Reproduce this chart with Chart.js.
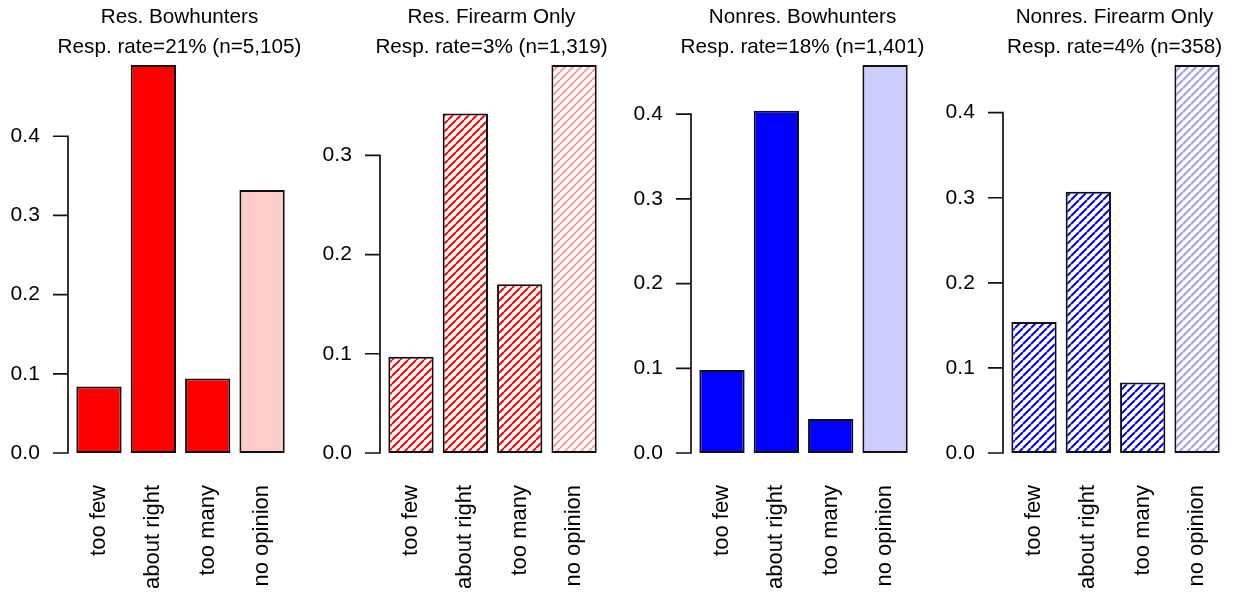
<!DOCTYPE html>
<html>
<head>
<meta charset="utf-8">
<script src="https://cdn.jsdelivr.net/npm/chart.js@4.4.1/dist/chart.umd.min.js"></script>
<style>
  html, body { margin: 0; padding: 0; background: #fff; overflow: hidden; width: 1233px; height: 595px; }
  #wrap { position: relative; width: 1233px; height: 595px; overflow: hidden; }
  #wrap canvas { position: absolute; top: 0; }
</style>
</head>
<body>
<div id="wrap"></div>
<script>
// Answer categories shared by all four panels
const categories = ['too few', 'about right', 'too many', 'no opinion'];

// Share of respondents per answer
const resBowhunters     = [0.084, 0.490, 0.094, 0.332];
const resFirearmOnly    = [0.097, 0.342, 0.170, 0.391];
const nonresBowhunters  = [0.098, 0.404, 0.040, 0.458];
const nonresFirearmOnly = [0.154, 0.307, 0.083, 0.456];

// Panel headings
const titleResBow     = ['Res. Bowhunters', 'Resp. rate=21% (n=5,105)'];
const titleResFire    = ['Res. Firearm Only', 'Resp. rate=3% (n=1,319)'];
const titleNonresBow  = ['Nonres. Bowhunters', 'Resp. rate=18% (n=1,401)'];
const titleNonresFire = ['Nonres. Firearm Only', 'Resp. rate=4% (n=358)'];

// Y axis tick values
const yTicksResBow     = [0, 0.1, 0.2, 0.3, 0.4];
const yTicksResFire    = [0, 0.1, 0.2, 0.3];
const yTicksNonresBow  = [0, 0.1, 0.2, 0.3, 0.4];
const yTicksNonresFire = [0, 0.1, 0.2, 0.3, 0.4];

// ---- layout & style ----
const FONT = '"Liberation Sans", Arial, Helvetica, sans-serif';
const PANEL_STEP = 311.7;
const CANVAS_W = 318;
const CANVAS_H = 595;
const AXIS_X = 68;          // y axis line position inside each canvas
const UNIT = 45.3;          // bar width
const INNER_W = 4.8 * UNIT; // four bars with 0.2 spacing
const INSET = 0.084 * UNIT; // gap between axis and first spacing
const AREA_TOP = 65;
const AREA_BOTTOM = 453;
const TITLE_Y = [17, 47];

function hatch(color) {
  const s = 8;
  const c = document.createElement('canvas');
  c.width = s; c.height = s;
  const g = c.getContext('2d');
  g.fillStyle = '#ffffff';
  g.fillRect(0, 0, s, s);
  g.strokeStyle = color;
  g.lineWidth = 2;
  g.beginPath();
  for (const k of [-s, 0, s]) {
    g.moveTo(k, s);
    g.lineTo(k + s, 0);
  }
  g.stroke();
  return g.createPattern(c, 'repeat');
}

const RED = '#ff0000', PINK = '#ffcccc', BLUE = '#0000ff', LAVENDER = '#ccccff';

const panels = [
  { title: titleResBow,     values: resBowhunters,     ticks: yTicksResBow,
    fill: [RED, RED, RED, PINK] },
  { title: titleResFire,    values: resFirearmOnly,    ticks: yTicksResFire,
    fill: [hatch(RED), hatch(RED), hatch(RED), hatch('#ff9c9c')] },
  { title: titleNonresBow,  values: nonresBowhunters,  ticks: yTicksNonresBow,
    fill: [BLUE, BLUE, BLUE, LAVENDER] },
  { title: titleNonresFire, values: nonresFirearmOnly, ticks: yTicksNonresFire,
    fill: [hatch(BLUE), hatch(BLUE), hatch(BLUE), hatch('#9c9cff')] }
];

// R-style y axis: line spans first to last tick, ticks point outward
const rAxis = {
  id: 'rAxis',
  afterDraw(chart) {
    const ys = chart.scales.y;
    const tv = chart.options.plugins.rAxis.ticks;
    const area = chart.chartArea;
    const pitch = area.width / categories.length;
    const ax = area.left - pitch * 0.07;
    const ctx = chart.ctx;
    ctx.save();
    ctx.strokeStyle = '#111';
    ctx.lineWidth = 1.7;
    ctx.lineCap = 'butt';
    ctx.beginPath();
    ctx.moveTo(ax, ys.getPixelForValue(tv[0]));
    ctx.lineTo(ax, ys.getPixelForValue(tv[tv.length - 1]));
    for (const v of tv) {
      const py = ys.getPixelForValue(v);
      ctx.moveTo(ax + 0.85, py);
      ctx.lineTo(ax - 15, py);
    }
    ctx.stroke();
    ctx.restore();
  }
};

// Two-line heading centred over the plot region
const panelTitle = {
  id: 'panelTitle',
  afterDraw(chart) {
    const lines = chart.options.plugins.panelTitle.text;
    const area = chart.chartArea;
    const ctx = chart.ctx;
    ctx.save();
    ctx.fillStyle = '#000';
    ctx.font = '20.7px ' + FONT;
    ctx.textAlign = 'center';
    ctx.textBaseline = 'middle';
    lines.forEach((t, k) => ctx.fillText(t, (area.left + area.right) / 2 - 1, TITLE_Y[k]));
    ctx.restore();
  }
};

const wrap = document.getElementById('wrap');

panels.forEach((p, i) => {
  const cv = document.createElement('canvas');
  cv.width = CANVAS_W; cv.height = CANVAS_H;
  cv.style.left = (i * PANEL_STEP) + 'px';
  cv.style.width = CANVAS_W + 'px';
  cv.style.height = CANVAS_H + 'px';
  wrap.appendChild(cv);

  new Chart(cv, {
    type: 'bar',
    data: {
      labels: categories,
      datasets: [{
        data: p.values,
        backgroundColor: p.fill,
        borderColor: '#111',
        borderWidth: 2,
        borderSkipped: false,
        categoryPercentage: 1,
        barPercentage: 1 / 1.2
      }]
    },
    options: {
      responsive: false,
      animation: false,
      devicePixelRatio: 1,
      layout: { padding: { left: 0, top: AREA_TOP, bottom: 0, right: CANVAS_W - (AXIS_X + INSET) - INNER_W } },
      plugins: {
        legend: { display: false },
        tooltip: { enabled: false },
        title: { display: false },
        panelTitle: { text: p.title },
        rAxis: { ticks: p.ticks }
      },
      scales: {
        x: {
          grid: { display: false, drawTicks: true, tickLength: 32 },
          border: { display: false },
          ticks: {
            autoSkip: false,
            minRotation: 90,
            maxRotation: 90,
            padding: 0,
            color: '#000',
            font: { family: FONT, size: 22 }
          },
          afterFit(s) { s.height = CANVAS_H - AREA_BOTTOM; }
        },
        y: {
          min: 0,
          max: Math.max(...p.values),
          grid: { display: false, drawTicks: false },
          border: { display: false },
          afterBuildTicks(s) { s.ticks = p.ticks.map(v => ({ value: v })); },
          ticks: {
            padding: 32,
            color: '#000',
            font: { family: FONT, size: 21 },
            callback: v => Number(v).toFixed(1)
          },
          afterFit(s) { s.width = AXIS_X + INSET; }
        }
      }
    },
    plugins: [rAxis, panelTitle]
  });
});
</script>
</body>
</html>
